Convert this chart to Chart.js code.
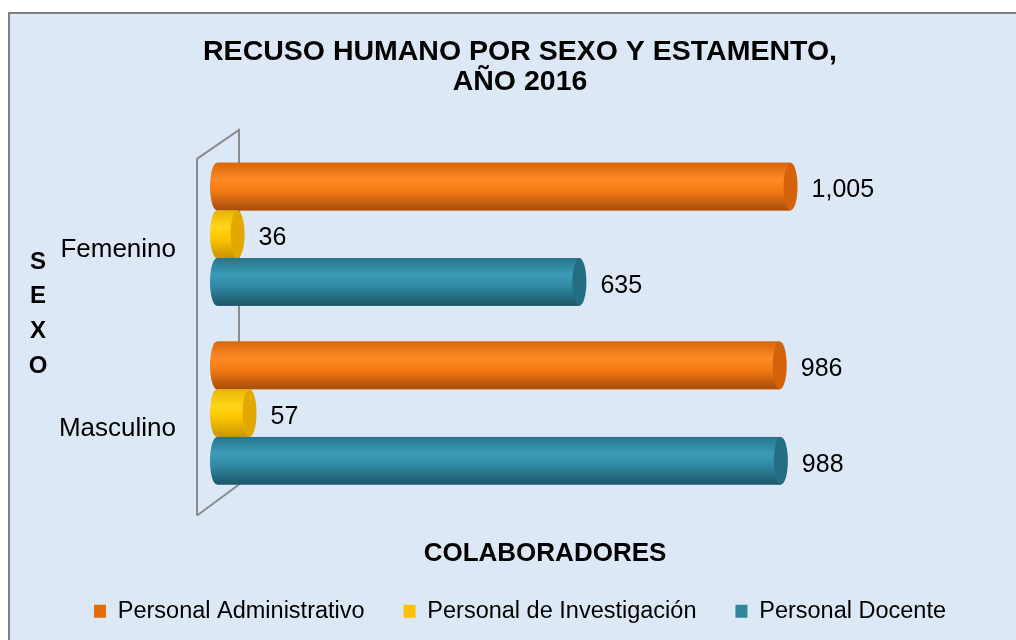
<!DOCTYPE html>
<html>
<head>
<meta charset="utf-8">
<script src="https://cdn.jsdelivr.net/npm/chart.js@4"></script>
<style>
    body { margin: 0; background: #fff; }
    canvas { display: block; }
</style>
</head>
<body>
<canvas id="chart" width="1016" height="640"></canvas>
<script>
// chart data
const categories = ['Femenino', 'Masculino'];
const seriesNames = ['Personal Administrativo', 'Personal de Investigación', 'Personal Docente'];
const administrativo = [1005, 986];
const investigacion = [36, 57];
const docente = [635, 988];
const titleLines = ['RECUSO HUMANO POR SEXO Y ESTAMENTO,', 'AÑO 2016'];
const xTitle = 'COLABORADORES';
const yTitle = 'SEXO';

const FONT = "'Liberation Sans', Arial, sans-serif";

// cylinder shading per series: [top, highlight, middle, bottom], end cap colour
const shades = [
    { stops: ['#d8660c', '#ff8b25', '#f27a14', '#a84c08'], cap: '#d4620a', base: '#e46c0a' },
    { stops: ['#e8b400', '#ffd51a', '#fbc600', '#c89400'], cap: '#e2a900', base: '#ffc000' },
    { stops: ['#28748a', '#3b9cb8', '#2f89a2', '#1c5667'], cap: '#236e82', base: '#31859c' },
];

function cylinderGradient(ctx, top, bottom, stops) {
    const g = ctx.createLinearGradient(0, top, 0, bottom);
    g.addColorStop(0, stops[0]);
    g.addColorStop(0.35, stops[1]);
    g.addColorStop(0.6, stops[2]);
    g.addColorStop(1, stops[3]);
    return g;
}

const decorPlugin = {
    id: 'decor',
    beforeDraw(chart) {
        const { ctx, width, height } = chart;
        ctx.save();
        ctx.fillStyle = '#ffffff';
        ctx.fillRect(0, 0, width, height);
        ctx.fillStyle = '#dce8f5';
        ctx.fillRect(9, 13, width - 9, height - 13);
        ctx.strokeStyle = '#7f7f7f';
        ctx.lineWidth = 2;
        ctx.beginPath();
        ctx.moveTo(9, height);
        ctx.lineTo(9, 13);
        ctx.lineTo(width, 13);
        ctx.stroke();
        ctx.restore();
    },
    beforeDatasetsDraw(chart) {
        // 3D side wall behind the bars
        const { ctx, chartArea: a } = chart;
        ctx.save();
        ctx.strokeStyle = '#8c8c8c';
        ctx.lineWidth = 2;
        ctx.beginPath();
        ctx.moveTo(a.left - 20, a.bottom + 13);
        ctx.lineTo(a.left - 20, a.top + 14);
        ctx.lineTo(a.left + 22, a.top - 15);
        ctx.lineTo(a.left + 22, a.bottom - 18);
        ctx.lineTo(a.left - 20, a.bottom + 13);
        ctx.stroke();
        ctx.restore();
    },
    afterDatasetsDraw(chart) {
        const { ctx } = chart;
        ctx.save();
        chart.data.datasets.forEach((ds, di) => {
            const meta = chart.getDatasetMeta(di);
            const shade = shades[di];
            meta.data.forEach((bar, i) => {
                const { x, y, base, height } = bar.getProps(['x', 'y', 'base', 'height'], true);
                const top = y - height / 2;
                const bottom = y + height / 2;
                const rx = 7;
                const grad = cylinderGradient(ctx, top, bottom, shade.stops);
                // body
                ctx.fillStyle = grad;
                ctx.fillRect(base, top, x - base, height);
                // rounded back end
                ctx.beginPath();
                ctx.ellipse(base, y, rx, height / 2, 0, Math.PI / 2, Math.PI * 1.5);
                ctx.fill();
                // front cap
                ctx.beginPath();
                ctx.ellipse(x, y, rx, height / 2, 0, 0, Math.PI * 2);
                ctx.fillStyle = shade.cap;
                ctx.fill();
                // value label
                ctx.fillStyle = '#000';
                ctx.font = '25px ' + FONT;
                ctx.textAlign = 'left';
                ctx.textBaseline = 'middle';
                ctx.fillText(ds.data[i].toLocaleString('en-US'), x + 21, y + 4);
            });
        });
        ctx.restore();
    },
    afterDraw(chart) {
        const { ctx, chartArea: a } = chart;
        ctx.save();
        ctx.fillStyle = '#000';
        ctx.textAlign = 'center';
        ctx.textBaseline = 'middle';
        ctx.font = 'bold 24px ' + FONT;
        yTitle.split('').forEach((ch, k) => {
            ctx.fillText(ch, 38, 262 + k * 34.7);
        });
        ctx.font = 'bold 26px ' + FONT;
        ctx.fillText(xTitle, a.left + 328, a.bottom + 51);
        ctx.restore();
    },
};

const ctx = document.getElementById('chart').getContext('2d');
new Chart(ctx, {
    type: 'bar',
    data: {
        labels: categories,
        datasets: [
            { label: seriesNames[0], data: administrativo, backgroundColor: shades[0].base },
            { label: seriesNames[1], data: investigacion, backgroundColor: shades[1].base },
            { label: seriesNames[2], data: docente, backgroundColor: shades[2].base },
        ],
    },
    options: {
        indexAxis: 'y',
        responsive: false,
        animation: false,
        devicePixelRatio: 1,
        categoryPercentage: 0.8,
        barPercentage: 1.0,
        layout: { padding: { left: 24, right: 0, top: 0, bottom: 7 } },
        scales: {
            x: {
                min: 0,
                max: 1400,
                grid: { display: false, drawTicks: false },
                border: { display: false },
                ticks: { display: false },
                afterFit: (axis) => { axis.height = 58; },
            },
            y: {
                grid: { display: false, drawTicks: false },
                border: { display: false },
                ticks: {
                    color: '#000',
                    font: { family: FONT, size: 26 },
                    padding: 41,
                    labelOffset: 16,
                },
                afterFit: (axis) => { axis.width = 193; },
            },
        },
        plugins: {
            title: {
                display: true,
                text: titleLines,
                color: '#000',
                font: { family: FONT, size: 28.5, weight: 'bold', lineHeight: 1.067 },
                padding: { top: 37, bottom: 47 },
            },
            legend: {
                position: 'bottom',
                labels: {
                    color: '#000',
                    font: { family: FONT, size: 23.5 },
                    boxWidth: 12,
                    boxHeight: 13,
                    padding: 39,
                },
            },
            tooltip: { enabled: false },
        },
    },
    plugins: [decorPlugin],
});
</script>
</body>
</html>
